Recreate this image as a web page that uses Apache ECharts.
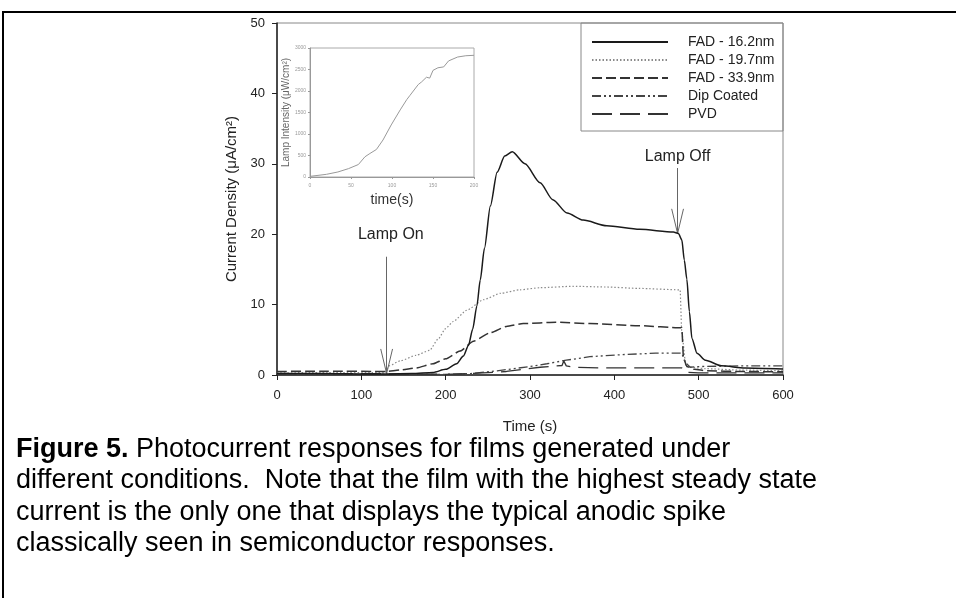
<!DOCTYPE html>
<html>
<head>
<meta charset="utf-8">
<script src="https://cdn.jsdelivr.net/npm/echarts@6/dist/echarts.min.js"></script>
<style>
  html, body { margin: 0; padding: 0; background: #fff; }
  #chart { width: 956px; height: 598px; }
</style>
</head>
<body>
<div id="chart"></div>
<script>
// FAD - 16.2nm (solid)
var fad162T = [0, 50, 100, 130, 160, 185, 200, 213, 221, 227, 232, 237, 241, 246, 253, 261, 270, 279, 294, 312, 327, 344, 363, 391, 430, 470, 476, 480, 483, 486, 489, 492, 498, 508, 527, 555, 600]
var fad162V = [0.2, 0.2, 0.15, 0.15, 0.2, 0.37, 0.8, 1.6, 2.7, 4.2, 6.5, 9.8, 13.5, 18, 24, 28.8, 31.1, 31.7, 30, 27.3, 24.9, 23, 22, 21.2, 20.7, 20.3, 20.1, 19.2, 16.3, 13.6, 9, 5.2, 3.1, 2.1, 1.3, 1.0, 0.85]

// FAD - 19.7nm (dotted)
var fad197T = [0, 60, 128, 133, 146, 165, 181, 191, 200, 209, 225, 245, 265, 288, 312, 351, 390, 429, 478, 480, 485, 508, 550, 600]
var fad197V = [0.3, 0.35, 0.35, 1.3, 2.0, 2.8, 3.5, 5.1, 6.6, 7.6, 9.2, 10.7, 11.6, 12.1, 12.4, 12.6, 12.5, 12.3, 12.1, 6, 1.2, 0.9, 0.7, 0.6]

// FAD - 33.9nm (dashed)
var fad339T = [0, 60, 130, 146, 165, 185, 200, 217, 233, 253, 272, 292, 331, 371, 429, 480, 482, 486, 495, 510, 550, 600]
var fad339V = [0.5, 0.55, 0.5, 0.7, 1.0, 1.6, 2.3, 3.4, 4.8, 6.0, 6.9, 7.3, 7.5, 7.3, 7.0, 6.7, 2.4, 1.2, 0.8, 0.6, 0.5, 0.45]

// Dip Coated (dash-dot-dot)
var dipT = [0, 100, 200, 230, 261, 300, 320, 343, 371, 410, 449, 480, 484, 490, 500, 550, 600]
var dipV = [0.1, 0.1, 0.1, 0.2, 0.6, 1.2, 1.6, 2.1, 2.6, 2.9, 3.1, 3.1, 1.8, 1.1, 1.2, 1.3, 1.3]

// PVD (long dash)
var pvdT = [0, 100, 200, 230, 272, 312, 338, 340, 343, 351, 390, 480, 485, 500, 550, 600]
var pvdV = [0.2, 0.2, 0.1, 0.2, 0.5, 1.1, 1.35, 2.0, 1.3, 1.1, 1.0, 1.0, 0.4, 0.3, 0.3, 0.3]

// inset: lamp intensity
var lampT = [0, 20, 34, 47, 59, 67, 73, 81, 89, 99, 110, 118, 122, 132, 136, 142, 146, 150, 156, 163, 169, 180, 190, 200]
var lampV = [15, 62, 117, 195, 290, 470, 546, 640, 860, 1210, 1560, 1800, 1900, 2150, 2210, 2320, 2300, 2480, 2540, 2560, 2700, 2790, 2820, 2830]

var legendNames = ['FAD - 16.2nm', 'FAD - 19.7nm', 'FAD - 33.9nm', 'Dip Coated', 'PVD']

var captionLines = [
  '{b|Figure 5.} Photocurrent responses for films generated under',
  'different conditions.  Note that the film with the highest steady state',
  'current is the only one that displays the typical anodic spike',
  'classically seen in semiconductor responses.'
]

// arrows: time, tip value, top of shaft, and where the text sits
var lampOn = { t: 130, tip: 0.2, top: 16.8, label: 'Lamp On', labelT: 135, labelV: 19.9 }
var lampOff = { t: 475, tip: 20.1, top: 29.4, label: 'Lamp Off', labelT: 475, labelV: 31 }

function zip(t, v) {
  return t.map(function(x, i) { return [x, v[i]] })
}

function arrowLines(a) {
  var dx = 7, dy = 3.5
  var lineStyle = { color: '#666', width: 1, type: 'solid' }
  return [
    [{ coord: [a.t, a.top], lineStyle: lineStyle }, { coord: [a.t, a.tip] }],
    [{ coord: [a.t - dx, a.tip + dy], lineStyle: lineStyle }, { coord: [a.t, a.tip] }],
    [{ coord: [a.t + dx, a.tip + dy], lineStyle: lineStyle }, { coord: [a.t, a.tip] }]
  ]
}

var font = 'Liberation Sans, Arial, sans-serif'
var chart = echarts.init(document.getElementById('chart'), null, { renderer: 'canvas' })

var lineBase = { type: 'line', symbol: 'none', xAxisIndex: 0, yAxisIndex: 0, animation: false }

chart.setOption({
  animation: false,
  backgroundColor: '#fff',
  textStyle: { fontFamily: font },
  grid: [
    { left: 277, top: 23, width: 506, height: 352, show: true, borderColor: '#888', borderWidth: 1 },
    { left: 310, top: 48, width: 164, height: 129, show: true, borderColor: '#aaa', borderWidth: 1, backgroundColor: '#fff' }
  ],
  xAxis: [
    {
      type: 'value', gridIndex: 0, min: 0, max: 600, interval: 100,
      name: 'Time (s)', nameLocation: 'middle', nameGap: 44,
      nameTextStyle: { fontSize: 15, color: '#222', fontFamily: font },
      axisLine: { lineStyle: { color: '#222', width: 1.5 } },
      axisTick: { length: 5, lineStyle: { color: '#222' } },
      axisLabel: { fontSize: 13, color: '#222', margin: 14, fontFamily: font },
      splitLine: { show: false }
    },
    {
      type: 'value', gridIndex: 1, min: 0, max: 200, interval: 50,
      name: 'time(s)', nameLocation: 'middle', nameGap: 16,
      nameTextStyle: { fontSize: 14, color: '#333', fontFamily: font },
      axisLine: { lineStyle: { color: '#999', width: 1 } },
      axisTick: { length: 2, lineStyle: { color: '#999' } },
      axisLabel: { fontSize: 5, color: '#999', margin: 6 },
      splitLine: { show: false }
    }
  ],
  yAxis: [
    {
      type: 'value', gridIndex: 0, min: 0, max: 50, interval: 10,
      name: 'Current Density (\u03bcA/cm\u00b2)', nameLocation: 'middle', nameGap: 38,
      nameTextStyle: { fontSize: 15, color: '#222', fontFamily: font },
      axisLine: { show: true, lineStyle: { color: '#222', width: 1.5 } },
      axisTick: { show: true, length: 5, lineStyle: { color: '#222' } },
      axisLabel: { fontSize: 13, color: '#222', margin: 12, fontFamily: font },
      splitLine: { show: false }
    },
    {
      type: 'value', gridIndex: 1, min: 0, max: 3000, interval: 500,
      name: 'Lamp Intensity (\u03bcW/cm\u00b2)', nameLocation: 'middle', nameGap: 9,
      nameTextStyle: { fontSize: 10, color: '#666', fontFamily: font },
      axisLine: { show: true, lineStyle: { color: '#999', width: 1 } },
      axisTick: { show: true, length: 2, lineStyle: { color: '#999' } },
      axisLabel: { fontSize: 5, color: '#999', margin: 4, formatter: function(v) { return String(v) } },
      splitLine: { show: false }
    }
  ],
  legend: {
    data: legendNames,
    orient: 'vertical',
    left: 591, top: 35, padding: 0,
    itemWidth: 76, itemHeight: 14, itemGap: 4,
    selectedMode: false,
    itemStyle: { opacity: 0 },
    textStyle: { fontSize: 14, color: '#222', fontFamily: font, padding: [0, 0, 0, 15] }
  },
  graphic: [
    { type: 'rect', shape: { x: 581, y: 23, width: 202, height: 108 }, style: { fill: 'none', stroke: '#888', lineWidth: 1 }, z: 10 },
    { type: 'line', shape: { x1: 2, y1: 12, x2: 956, y2: 12 }, style: { stroke: '#000', lineWidth: 2 } },
    { type: 'line', shape: { x1: 3, y1: 12, x2: 3, y2: 598 }, style: { stroke: '#000', lineWidth: 2 } }
  ].concat(captionLines.map(function(s, i) {
    return {
      type: 'text', left: 16, top: 436 + i * 31.3,
      style: {
        text: s, fill: '#000', fontSize: 27, fontFamily: font,
        rich: { b: { fontSize: 27, fontWeight: 'bold', fontFamily: font, fill: '#000' } }
      }
    }
  })),
  series: [
    Object.assign({}, lineBase, {
      name: legendNames[0], data: zip(fad162T, fad162V), z: 5,
      smooth: 0.25, smoothMonotone: 'x',
      lineStyle: { color: '#1a1a1a', width: 1.5, type: 'solid' }, itemStyle: { color: '#1a1a1a' },
      markLine: {
        silent: true, symbol: ['none', 'none'], label: { show: false },
        data: arrowLines(lampOn).concat(arrowLines(lampOff))
      },
      markPoint: {
        silent: true, symbol: 'circle', symbolSize: 1, itemStyle: { color: 'rgba(0,0,0,0)' },
        label: { show: true, position: 'inside', fontSize: 16, color: '#222', fontFamily: font, formatter: '{b}' },
        data: [
          { name: lampOn.label, coord: [lampOn.labelT, lampOn.labelV] },
          { name: lampOff.label, coord: [lampOff.labelT, lampOff.labelV] }
        ]
      }
    }),
    Object.assign({}, lineBase, {
      name: legendNames[1], data: zip(fad197T, fad197V),
      smooth: 0.2, smoothMonotone: 'x',
      lineStyle: { color: '#8a8a8a', width: 1.2, type: [1.5, 2] }, itemStyle: { color: '#8a8a8a' }
    }),
    Object.assign({}, lineBase, {
      name: legendNames[2], data: zip(fad339T, fad339V),
      smooth: 0.2, smoothMonotone: 'x',
      lineStyle: { color: '#333', width: 1.5, type: [10, 4] }, itemStyle: { color: '#333' }
    }),
    Object.assign({}, lineBase, {
      name: legendNames[3], data: zip(dipT, dipV),
      lineStyle: { color: '#444', width: 1.3, type: [9, 3, 2, 3, 2, 3] }, itemStyle: { color: '#444' }
    }),
    Object.assign({}, lineBase, {
      name: legendNames[4], data: zip(pvdT, pvdV),
      lineStyle: { color: '#333', width: 1.3, type: [20, 8] }, itemStyle: { color: '#333' }
    }),
    {
      type: 'line', name: 'Lamp Intensity', symbol: 'none', xAxisIndex: 1, yAxisIndex: 1, z: 12,
      data: zip(lampT, lampV),
      lineStyle: { color: '#999', width: 1 }
    }
  ]
})
</script>
</body>
</html>
